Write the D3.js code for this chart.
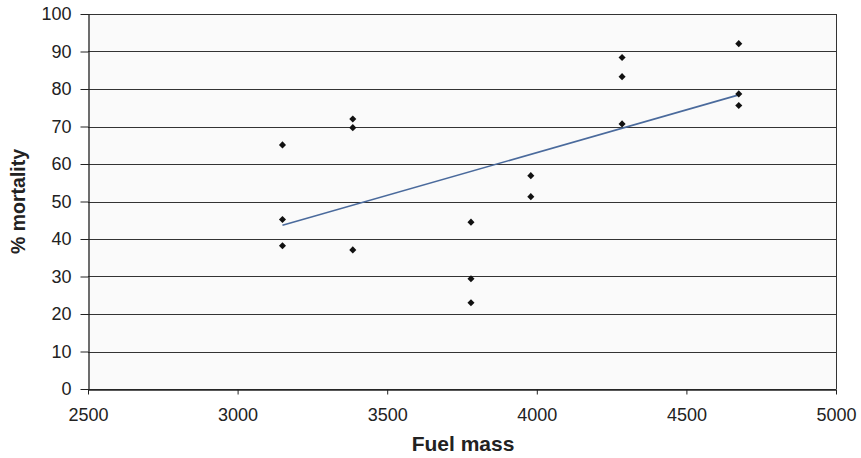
<!DOCTYPE html>
<html>
<head>
<meta charset="utf-8">
<script src="https://cdn.jsdelivr.net/npm/d3@7"></script>
<style>
  html, body { margin: 0; padding: 0; background: #ffffff; }
  svg { display: block; }
</style>
</head>
<body>
<svg id="chart" width="861" height="458"></svg>
<script>
// Data
const fuelMass  = [3150, 3150, 3150, 3385, 3385, 3385, 3780, 3780, 3780, 3980, 3980, 4285, 4285, 4285, 4675, 4675, 4675];
const mortality = [65.1, 45.2, 38.2, 72.0, 69.7, 37.1, 44.5, 29.4, 23.0, 56.9, 51.3, 88.4, 83.3, 70.7, 92.1, 78.7, 75.6];
const xTicks = [2500, 3000, 3500, 4000, 4500, 5000];
const yTicks = [0, 10, 20, 30, 40, 50, 60, 70, 80, 90, 100];
const xTitle = "Fuel mass";
const yTitle = "% mortality";

const points = fuelMass.map((x, i) => ({ x, y: mortality[i] }));

const svg = d3.select("#chart");
const pLeft = 88, pRight = 836, pTop = 14, pBottom = 389;

const x = d3.scaleLinear().domain([2500, 5000]).range([pLeft, pRight]);
const y = d3.scaleLinear().domain([0, 100]).range([pBottom, pTop]);

// plot background
svg.append("rect")
  .attr("x", pLeft).attr("y", pTop)
  .attr("width", pRight - pLeft).attr("height", pBottom - pTop)
  .attr("fill", "#fafafa");

// gridlines
svg.append("g")
  .selectAll("line")
  .data(yTicks)
  .join("line")
  .attr("x1", pLeft).attr("x2", pRight)
  .attr("y1", d => Math.round(y(d)) + 0.5).attr("y2", d => Math.round(y(d)) + 0.5)
  .attr("stroke", "#333").attr("stroke-width", 1);

// right border
svg.append("line")
  .attr("x1", pRight + 0.5).attr("x2", pRight + 0.5)
  .attr("y1", pTop).attr("y2", pBottom)
  .attr("stroke", "#333").attr("stroke-width", 1);

const fontFam = "'Liberation Sans', Arial, Helvetica, sans-serif";

// Y axis
const yAxis = svg.append("g")
  .attr("transform", `translate(${pLeft + 0.5},0)`)
  .call(d3.axisLeft(y).tickValues(yTicks).tickFormat(d3.format("d")).tickSize(8).tickPadding(9).tickSizeOuter(0));
yAxis.select(".domain").attr("stroke", "#222").attr("stroke-width", 1.3);
yAxis.selectAll(".tick line").attr("stroke", "#222");
yAxis.selectAll(".tick text")
  .attr("font-family", fontFam).attr("font-size", "18px").attr("fill", "#222");

// X axis
const xAxis = svg.append("g")
  .attr("transform", `translate(0,${pBottom + 0.5})`)
  .call(d3.axisBottom(x).tickValues(xTicks).tickFormat(d3.format("d")).tickSize(5).tickPadding(14).tickSizeOuter(0));
xAxis.select(".domain").attr("stroke", "#222").attr("stroke-width", 1.3);
xAxis.selectAll(".tick line").attr("stroke", "#222");
xAxis.selectAll(".tick text")
  .attr("font-family", fontFam).attr("font-size", "18px").attr("fill", "#222");

// Linear regression trendline computed from the data
const mx = d3.mean(fuelMass), my = d3.mean(mortality);
const sxy = d3.sum(points, p => (p.x - mx) * (p.y - my));
const sxx = d3.sum(points, p => (p.x - mx) * (p.x - mx));
const slope = sxy / sxx, intercept = my - slope * mx;
const [xmin, xmax] = d3.extent(fuelMass);
svg.append("path")
  .datum([xmin, xmax])
  .attr("d", d3.line().x(d => x(d)).y(d => y(intercept + slope * d)))
  .attr("stroke", "#4a6a9c").attr("stroke-width", 1.6).attr("fill", "none");

// markers (diamonds)
svg.append("g")
  .selectAll("path")
  .data(points)
  .join("path")
  .attr("transform", d => `translate(${x(d.x)},${y(d.y)}) rotate(45)`)
  .attr("d", "M-2.5,-2.5H2.5V2.5H-2.5Z")
  .attr("fill", "#111");

// titles
svg.append("text")
  .attr("x", 463).attr("y", 451)
  .attr("text-anchor", "middle")
  .attr("font-family", fontFam).attr("font-weight", "bold").attr("font-size", "21px")
  .attr("fill", "#222")
  .text(xTitle);

svg.append("text")
  .attr("transform", `translate(25,${(pTop + pBottom) / 2}) rotate(-90)`)
  .attr("text-anchor", "middle")
  .attr("font-family", fontFam).attr("font-weight", "bold").attr("font-size", "19.5px")
  .attr("fill", "#222")
  .text(yTitle);
</script>
</body>
</html>
